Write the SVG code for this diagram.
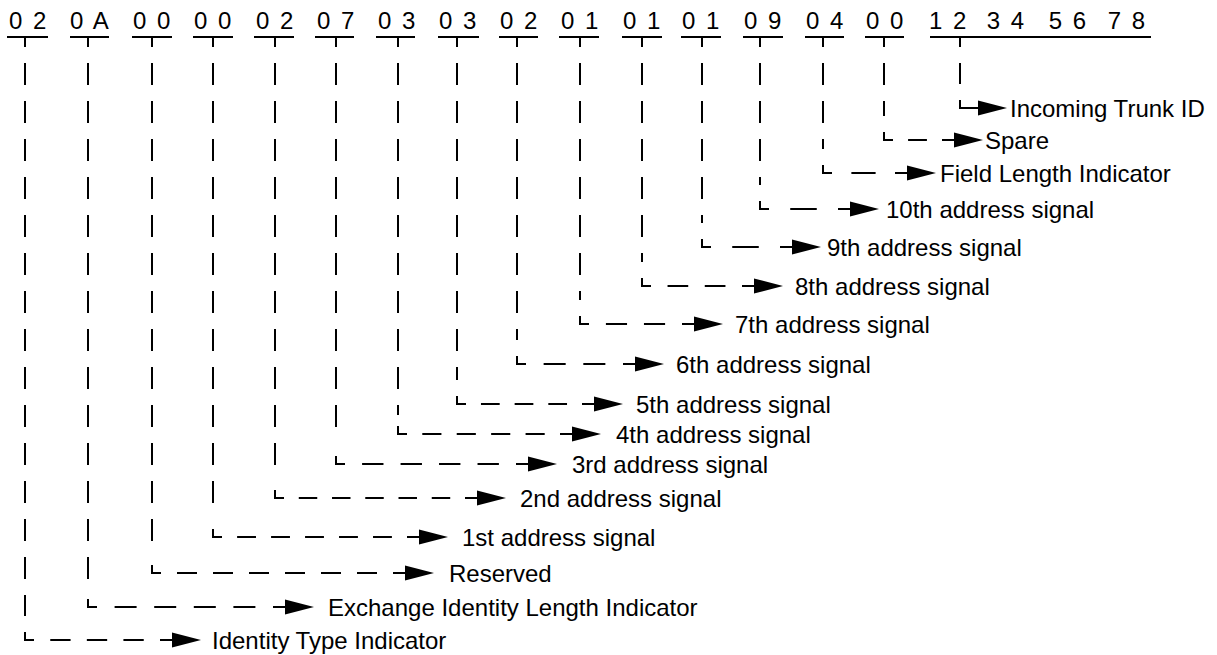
<svg xmlns="http://www.w3.org/2000/svg" width="1217" height="655" viewBox="0 0 1217 655">
<style>
.hdr{font-family:"Liberation Sans",Arial,sans-serif;font-size:24px;letter-spacing:2px;fill:#000}
.lbl{font-family:"Liberation Sans",Arial,sans-serif;font-size:24px;fill:#000}
.ul{stroke:#000;stroke-width:2;fill:none}
.vd{stroke:#000;stroke-width:2;fill:none;stroke-dasharray:22 16;stroke-dashoffset:12}
.hd{stroke:#000;stroke-width:2;fill:none;stroke-dasharray:20 16;stroke-dashoffset:20}
.sol{stroke:#000;stroke-width:2;fill:none}
.shaft{stroke:#000;stroke-width:2;fill:none;marker-end:url(#ah)}
</style>
<defs>
<marker id="ah" markerUnits="userSpaceOnUse" markerWidth="30" markerHeight="16" refX="0" refY="7.5" orient="auto" overflow="visible">
<path d="M0,0 L29,7.5 L0,15 Z" fill="#000"/>
</marker>
</defs>
<rect width="1217" height="655" fill="#fff"/>
<g id="header">
<g id="h1"><text class="hdr" x="9" y="29">0 2</text><line class="ul" x1="7" y1="37" x2="48" y2="37"/></g>
<g id="h2"><text class="hdr" x="70" y="29">0 A</text><line class="ul" x1="70" y1="37" x2="109" y2="37"/></g>
<g id="h3"><text class="hdr" x="133" y="29">0 0</text><line class="ul" x1="132" y1="37" x2="172" y2="37"/></g>
<g id="h4"><text class="hdr" x="194" y="29">0 0</text><line class="ul" x1="193" y1="37" x2="233" y2="37"/></g>
<g id="h5"><text class="hdr" x="256" y="29">0 2</text><line class="ul" x1="254" y1="37" x2="294" y2="37"/></g>
<g id="h6"><text class="hdr" x="317" y="29">0 7</text><line class="ul" x1="315" y1="37" x2="354" y2="37"/></g>
<g id="h7"><text class="hdr" x="378" y="29">0 3</text><line class="ul" x1="376" y1="37" x2="415" y2="37"/></g>
<g id="h8"><text class="hdr" x="439" y="29">0 3</text><line class="ul" x1="438" y1="37" x2="479" y2="37"/></g>
<g id="h9"><text class="hdr" x="500" y="29">0 2</text><line class="ul" x1="499" y1="37" x2="538" y2="37"/></g>
<g id="h10"><text class="hdr" x="561" y="29">0 1</text><line class="ul" x1="559" y1="37" x2="599" y2="37"/></g>
<g id="h11"><text class="hdr" x="623" y="29">0 1</text><line class="ul" x1="622" y1="37" x2="662" y2="37"/></g>
<g id="h12"><text class="hdr" x="682" y="29">0 1</text><line class="ul" x1="681" y1="37" x2="721" y2="37"/></g>
<g id="h13"><text class="hdr" x="744" y="29">0 9</text><line class="ul" x1="743" y1="37" x2="783" y2="37"/></g>
<g id="h14"><text class="hdr" x="806" y="29">0 4</text><line class="ul" x1="805" y1="37" x2="844" y2="37"/></g>
<g id="h15"><text class="hdr" x="866" y="29">0 0</text><line class="ul" x1="865" y1="37" x2="904" y2="37"/></g>
<g id="h16"><text class="hdr" y="29"><tspan x="929">1 2</tspan><tspan x="978"> 3 4</tspan><tspan x="1040"> 5 6</tspan><tspan x="1099"> 7 8</tspan></text><line class="ul" x1="930" y1="37" x2="1151" y2="37"/></g>
</g>
<g id="connectors">
<path class="vd" d="M960,37 V84"/><path class="sol" d="M960,100 V108 H969"/><line class="shaft" x1="969" y1="108" x2="978" y2="108"/>
<path class="vd" d="M884,37 V116"/><path class="sol" d="M884,132 V140 H893"/><path class="hd" pathLength="52" d="M893,140 H942"/><line class="shaft" x1="942" y1="140" x2="954" y2="140"/>
<path class="vd" d="M823,37 V149"/><path class="sol" d="M823,165 V173 H832"/><path class="hd" pathLength="52" d="M832,173 H895"/><line class="shaft" x1="895" y1="173" x2="907" y2="173"/>
<path class="vd" d="M760,37 V185"/><path class="sol" d="M760,201 V209 H769"/><path class="hd" pathLength="52" d="M769,209 H838"/><line class="shaft" x1="838" y1="209" x2="850" y2="209"/>
<path class="vd" d="M702,37 V223"/><path class="sol" d="M702,239 V247 H711"/><path class="hd" pathLength="52" d="M711,247 H780"/><line class="shaft" x1="780" y1="247" x2="792" y2="247"/>
<path class="vd" d="M642,37 V262"/><path class="sol" d="M642,278 V286 H651"/><path class="hd" pathLength="88" d="M651,286 H742"/><line class="shaft" x1="742" y1="286" x2="754" y2="286"/>
<path class="vd" d="M580,37 V300"/><path class="sol" d="M580,316 V324 H589"/><path class="hd" pathLength="88" d="M589,324 H682"/><line class="shaft" x1="682" y1="324" x2="694" y2="324"/>
<path class="vd" d="M517,37 V340"/><path class="sol" d="M517,356 V364 H526"/><path class="hd" pathLength="88" d="M526,364 H623"/><line class="shaft" x1="623" y1="364" x2="635" y2="364"/>
<path class="vd" d="M457,37 V380"/><path class="sol" d="M457,396 V404 H466"/><path class="hd" pathLength="124" d="M466,404 H582"/><line class="shaft" x1="582" y1="404" x2="594" y2="404"/>
<path class="vd" d="M398,37 V415"/><path class="sol" d="M398,426 V434 H407"/><path class="hd" pathLength="160" d="M407,434 H560"/><line class="shaft" x1="560" y1="434" x2="572" y2="434"/>
<path class="vd" d="M336,37 V440"/><path class="sol" d="M336,456 V464 H345"/><path class="hd" pathLength="160" d="M345,464 H516"/><line class="shaft" x1="516" y1="464" x2="528" y2="464"/>
<path class="vd" d="M275,37 V474"/><path class="sol" d="M275,490 V498 H284"/><path class="hd" pathLength="196" d="M284,498 H465"/><line class="shaft" x1="465" y1="498" x2="477" y2="498"/>
<path class="vd" d="M213,37 V513"/><path class="sol" d="M213,529 V537 H222"/><path class="hd" pathLength="196" d="M222,537 H407"/><line class="shaft" x1="407" y1="537" x2="419" y2="537"/>
<path class="vd" d="M152,37 V549"/><path class="sol" d="M152,565 V573 H161"/><path class="hd" pathLength="232" d="M161,573 H393"/><line class="shaft" x1="393" y1="573" x2="405" y2="573"/>
<path class="vd" d="M88,37 V583"/><path class="sol" d="M88,599 V607 H97"/><path class="hd" pathLength="160" d="M97,607 H273"/><line class="shaft" x1="273" y1="607" x2="285" y2="607"/>
<path class="vd" d="M25,37 V616"/><path class="sol" d="M25,632 V640 H34"/><path class="hd" pathLength="124" d="M34,640 H160"/><line class="shaft" x1="160" y1="640" x2="172" y2="640"/>
</g>
<g id="l1"><text class="lbl" x="1010" y="116.5">Incoming Trunk ID</text></g>
<g id="l2"><text class="lbl" x="985" y="148.5">Spare</text></g>
<g id="l3"><text class="lbl" x="940" y="181.5">Field Length Indicator</text></g>
<g id="l4"><text class="lbl" x="886" y="217.5">10th address signal</text></g>
<g id="l5"><text class="lbl" x="827" y="255.5">9th address signal</text></g>
<g id="l6"><text class="lbl" x="795" y="294.5">8th address signal</text></g>
<g id="l7"><text class="lbl" x="735" y="332.5">7th address signal</text></g>
<g id="l8"><text class="lbl" x="676" y="372.5">6th address signal</text></g>
<g id="l9"><text class="lbl" x="636" y="412.5">5th address signal</text></g>
<g id="l10"><text class="lbl" x="616" y="442.5">4th address signal</text></g>
<g id="l11"><text class="lbl" x="572" y="472.5">3rd address signal</text></g>
<g id="l12"><text class="lbl" x="520" y="506.5">2nd address signal</text></g>
<g id="l13"><text class="lbl" x="462" y="545.5">1st address signal</text></g>
<g id="l14"><text class="lbl" x="449" y="581.5">Reserved</text></g>
<g id="l15"><text class="lbl" x="328" y="615.5">Exchange Identity Length Indicator</text></g>
<g id="l16"><text class="lbl" x="212" y="648.5">Identity Type Indicator</text></g>
</svg>
